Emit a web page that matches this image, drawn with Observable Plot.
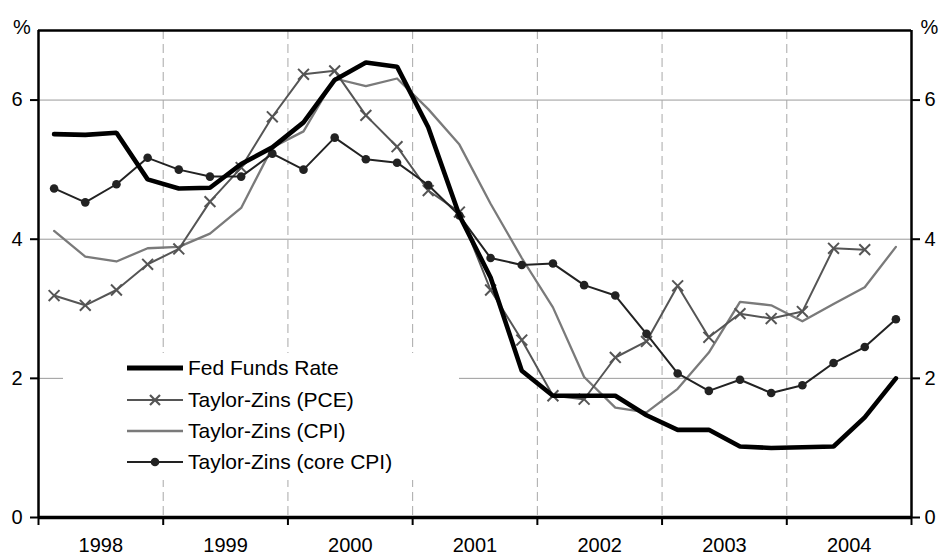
<!DOCTYPE html>
<html>
<head>
<meta charset="utf-8">
<script src="https://cdn.jsdelivr.net/npm/d3@7"></script>
<script src="https://cdn.jsdelivr.net/npm/@observablehq/plot@0.6"></script>
<style>
  html, body { margin: 0; padding: 0; background: #fff; }
  #wrap { position: relative; width: 940px; height: 556px; font-family: "Liberation Sans", Arial, sans-serif; }
  #legend { position: absolute; left: 63px; top: 353px; width: 396px; height: 127px; background: #fff; }
  .row { position: absolute; left: 0; height: 30px; width: 396px; }
  .row svg { position: absolute; left: 64px; top: 0; }
  .row span { position: absolute; left: 125px; top: 0; line-height: 30px; font-size: 21px; color: #000; white-space: nowrap; }
</style>
</head>
<body>
<div id="wrap"></div>
<script>
// Quarters 1998Q1 .. 2004Q4
const years = [1998, 1999, 2000, 2001, 2002, 2003, 2004];
const quarters = years.flatMap(y => [1, 2, 3, 4].map(q => ({year: y, q})));

const fedFunds = [5.51, 5.50, 5.53, 4.86, 4.73, 4.74, 5.08, 5.32, 5.68, 6.29, 6.54, 6.48, 5.61, 4.34, 3.45, 2.11, 1.75, 1.75, 1.75, 1.47, 1.26, 1.26, 1.02, 1.00, 1.01, 1.02, 1.44, 2.00];
const tzPCE    = [3.19, 3.05, 3.27, 3.64, 3.86, 4.54, 5.03, 5.76, 6.37, 6.42, 5.78, 5.33, 4.70, 4.39, 3.27, 2.55, 1.75, 1.70, 2.30, 2.53, 3.33, 2.59, 2.93, 2.86, 2.96, 3.87, 3.85, null];
const tzCPI    = [4.12, 3.75, 3.68, 3.87, 3.89, 4.08, 4.45, 5.32, 5.55, 6.31, 6.20, 6.31, 5.87, 5.36, 4.51, 3.73, 3.02, 2.02, 1.58, 1.51, 1.85, 2.37, 3.10, 3.05, 2.82, 3.07, 3.31, 3.89];
const tzCore   = [4.73, 4.53, 4.79, 5.17, 5.00, 4.90, 4.90, 5.23, 5.00, 5.46, 5.15, 5.10, 4.78, 4.34, 3.73, 3.63, 3.65, 3.34, 3.19, 2.64, 2.07, 1.82, 1.98, 1.79, 1.90, 2.22, 2.45, 2.85];

const yTicks = [0, 2, 4, 6];
const seriesNames = ["Fed Funds Rate", "Taylor-Zins (PCE)", "Taylor-Zins (CPI)", "Taylor-Zins (core CPI)"];

const t = quarters.map(d => d.year + (d.q - 0.5) / 4);
const mk = arr => arr.map((v, i) => ({x: t[i], y: v})).filter(d => d.y != null);
const fed = mk(fedFunds), pce = mk(tzPCE), cpi = mk(tzCPI), core = mk(tzCore);

const yearBounds = [...years, years[years.length - 1] + 1];
const innerBounds = yearBounds.slice(1, -1);
const yearMids = years.map(y => y + 0.5);
const font = "'Liberation Sans', Arial, sans-serif";

const C_FED = "#000", C_PCE = "#555", C_CPI = "#7a7a7a", C_CORE = "#222";

const chart = Plot.plot({
  width: 940,
  height: 556,
  marginLeft: 38,
  marginRight: 29,
  marginTop: 30,
  marginBottom: 39,
  style: {fontFamily: font, background: "#fff", color: "#000"},
  x: {domain: [yearBounds[0], yearBounds[yearBounds.length - 1]], axis: null},
  y: {domain: [0, 7], axis: null},
  marks: [
    Plot.ruleY([2, 4, 6], {stroke: "#9a9a9a", strokeWidth: 1}),
    Plot.ruleX(innerBounds, {stroke: "#a8a8a8", strokeWidth: 1, strokeDasharray: "9,5"}),
    Plot.line(cpi, {x: "x", y: "y", stroke: C_CPI, strokeWidth: 2.3}),
    Plot.line(pce, {x: "x", y: "y", stroke: C_PCE, strokeWidth: 2}),
    Plot.dot(pce, {x: "x", y: "y", symbol: "times", r: 5, stroke: C_PCE, strokeWidth: 2}),
    Plot.line(core, {x: "x", y: "y", stroke: C_CORE, strokeWidth: 2}),
    Plot.dot(core, {x: "x", y: "y", r: 4.3, fill: C_CORE}),
    Plot.line(fed, {x: "x", y: "y", stroke: C_FED, strokeWidth: 4.6, strokeLinejoin: "miter"}),
    // frame
    Plot.ruleX([yearBounds[0]], {stroke: "#000", strokeWidth: 2.5}),
    Plot.ruleX([yearBounds[yearBounds.length - 1]], {stroke: "#000", strokeWidth: 2.5}),
    Plot.ruleY([7], {stroke: "#000", strokeWidth: 2.5}),
    Plot.ruleY([0], {stroke: "#000", strokeWidth: 3.5}),
    // axes
    Plot.axisY(yTicks, {anchor: "left", label: null, tickSize: 8, tickPadding: 8, strokeWidth: 2, fontSize: 20, tickFormat: d => String(d)}),
    Plot.axisY(yTicks, {anchor: "right", label: null, tickSize: 8, tickPadding: 5, strokeWidth: 2, fontSize: 20, tickFormat: d => String(d)}),
    Plot.axisX(yearBounds, {anchor: "bottom", label: null, tickSize: 8, strokeWidth: 2, tickFormat: () => ""}),
    Plot.axisX(yearMids, {anchor: "bottom", label: null, tickSize: 0, tickPadding: 20, fontSize: 20, tickFormat: d => String(Math.floor(d))}),
    Plot.text(["%"], {x: yearBounds[0], y: 7, dx: -16.5, dy: -3, fontSize: 20, text: d => d}),
    Plot.text(["%"], {x: yearBounds[yearBounds.length - 1], y: 7, dx: 18, dy: -3, fontSize: 20, text: d => d})
  ]
});

const wrap = document.getElementById("wrap");
wrap.appendChild(chart);

// Legend
const legend = document.createElement("div");
legend.id = "legend";
const samples = [
  `<line x1="0" y1="15" x2="56" y2="15" stroke="${C_FED}" stroke-width="5"/>`,
  `<line x1="0" y1="15" x2="56" y2="15" stroke="${C_PCE}" stroke-width="2"/><path d="M23,10L33,20M23,20L33,10" stroke="${C_PCE}" stroke-width="2.2"/>`,
  `<line x1="0" y1="15" x2="56" y2="15" stroke="${C_CPI}" stroke-width="2.3"/>`,
  `<line x1="0" y1="15" x2="56" y2="15" stroke="${C_CORE}" stroke-width="2"/><circle cx="28" cy="15" r="4.3" fill="${C_CORE}"/>`
];
const rowTops = [0, 1, 2, 3].map(i => 0.3 + i * 31.3);
seriesNames.forEach((name, i) => {
  const row = document.createElement("div");
  row.className = "row";
  row.style.top = rowTops[i] + "px";
  row.innerHTML = `<svg width="56" height="30">${samples[i]}</svg><span>${name}</span>`;
  legend.appendChild(row);
});
wrap.appendChild(legend);
</script>
</body>
</html>
